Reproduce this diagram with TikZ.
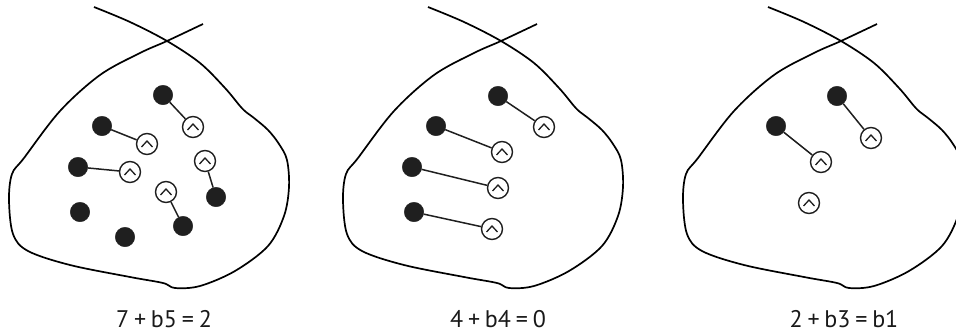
\documentclass[tikz,border=0pt]{standalone}
\usepackage{fontspec}
\setmainfont{PT Sans}[WordSpace=0.75]
\begin{document}
\begin{tikzpicture}[x=1pt,y=-1pt,
  blobline/.style={line width=1.7pt, line join=round},
  dot/.style={circle, fill=black!88, draw=black!88, line width=0.4pt, inner sep=0pt, minimum size=19.5pt},
  hollow/.style={circle, draw=black!88, fill=white, line width=1.4pt, inner sep=0pt, minimum size=21pt,
    path picture={\draw[line width=1.3pt, line join=miter]
      ([shift={(-5.5,3)}]path picture bounding box.center) -- ++(5.5,-6) -- ++(5.5,6);}},
  link/.style={line width=1.5pt, draw=black!88},
  eqlabel/.style={font=\fontsize{24}{28}\selectfont, text=black!90, inner sep=0pt}
]
\useasboundingbox (0,0) rectangle (956,335);
\newcommand\myblobcurve{%
  \draw[blobline] plot[smooth, tension=0.55] coordinates {
    (94,7) (130,22) (167,41) (200,63) (225,88) (240,106) (246,112) (254,118) (268,130)
    (279,144) (287,160) (289,187) (284,216) (268,246) (235,271) (200,286)
    (175,288) (163,283) (130,277) (70,265) (28,251) (13,234) (9,200) (12,174)
    (24,158) (60,111) (100,75) (140,53) (167,41) (203,24)};}
% blobs
\begin{scope}
  \myblobcurve
\end{scope}
\begin{scope}[xshift=334pt]
  \myblobcurve
\end{scope}
\begin{scope}[xshift=674pt]
  \myblobcurve
\end{scope}

% panel 1
\node[dot] (a1) at (163,95) {};
\node[dot] (a2) at (102,126) {};
\node[dot] (a3) at (78,167) {};
\node[dot] (a4) at (80,212) {};
\node[dot] (a5) at (125,237) {};
\node[dot] (a6) at (183,226) {};
\node[dot] (a7) at (216,197) {};
\node[hollow] (h1) at (193,127) {};
\node[hollow] (h2) at (147,144) {};
\node[hollow] (h3) at (130,172) {};
\node[hollow] (h4) at (205,161) {};
\node[hollow] (h5) at (166,192) {};
\draw[link] (a1) -- (h1);
\draw[link] (a2) -- (h2);
\draw[link] (a3) -- (h3);
\draw[link] (a7) -- (h4);
\draw[link] (a6) -- (h5);

% panel 2
\node[dot] (b1) at (498,96) {};
\node[dot] (b2) at (436,126) {};
\node[dot] (b3) at (412,167) {};
\node[dot] (b4) at (414,212) {};
\node[hollow] (k1) at (544,127) {};
\node[hollow] (k2) at (502,152) {};
\node[hollow] (k3) at (498,188) {};
\node[hollow] (k4) at (492,229) {};
\draw[link] (b1) -- (k1);
\draw[link] (b2) -- (k2);
\draw[link] (b3) -- (k3);
\draw[link] (b4) -- (k4);

% panel 3
\node[dot] (c1) at (837,96) {};
\node[dot] (c2) at (776,126) {};
\node[hollow] (m1) at (871,138) {};
\node[hollow] (m2) at (821,162) {};
\node[hollow] (m3) at (809,203) {};
\draw[link] (c1) -- (m1);
\draw[link] (c2) -- (m2);

% labels
\node[eqlabel] (l1) at (164,319) {7 + b5 = 2};
\node[eqlabel] (l2) at (498,319) {4 + b4 = 0};
\node[eqlabel] (l3) at (844,319) {2 + b3 = b1};
\end{tikzpicture}
\end{document}
